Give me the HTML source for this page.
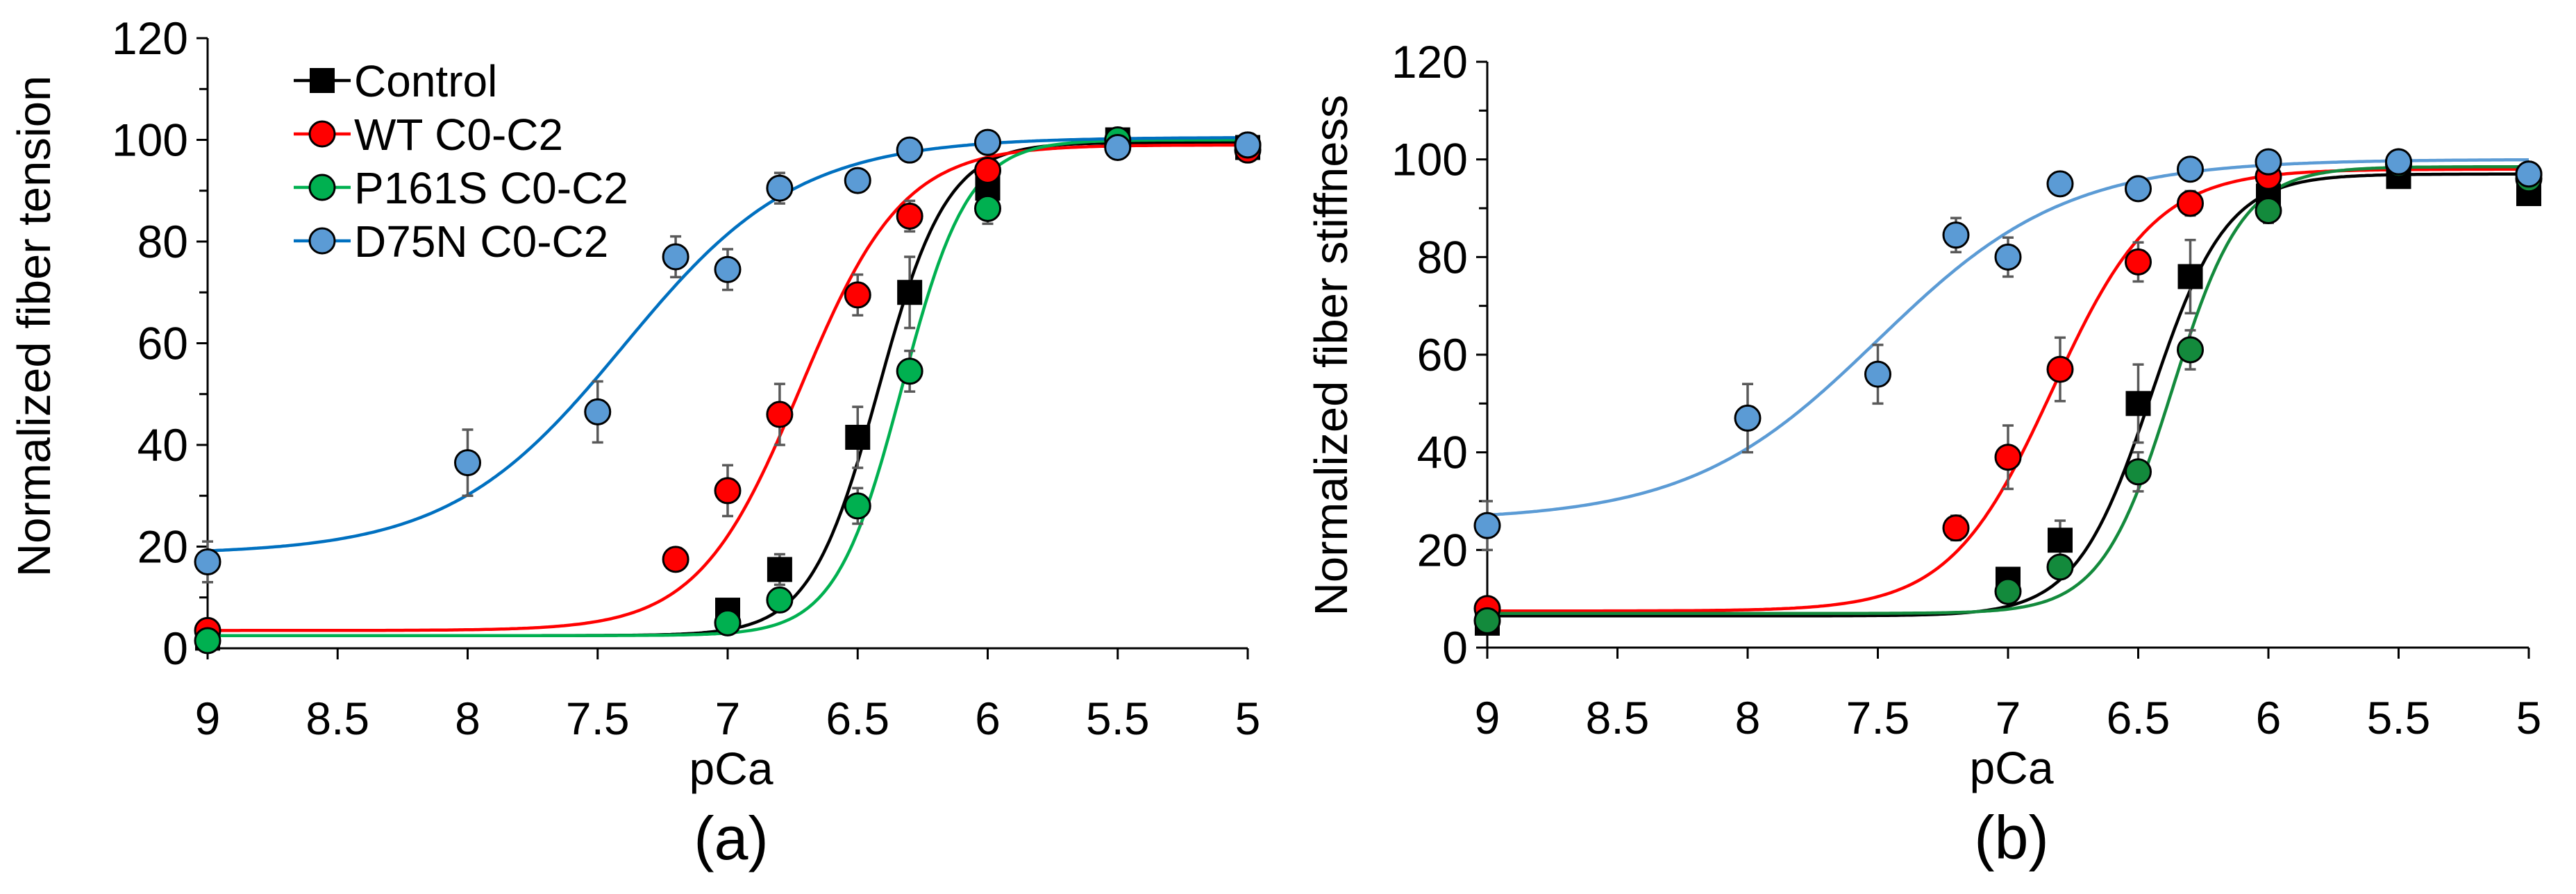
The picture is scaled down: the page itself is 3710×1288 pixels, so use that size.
<!DOCTYPE html>
<html><head><meta charset="utf-8"><style>
html,body{margin:0;padding:0;background:#fff;}
svg{display:block;font-family:"Liberation Sans",sans-serif;}
</style></head><body>
<svg id="fig" width="3710" height="1288" viewBox="0 0 3710 1288" xmlns="http://www.w3.org/2000/svg">
<g id="pa"></g>
<g id="pb"></g>
</svg>
<script>
const xTicks=[9,8.5,8,7.5,7,6.5,6,5.5,5];
const yTicks=[0,20,40,60,80,100,120];
const seriesNames=['Control','WT C0-C2','P161S C0-C2','D75N C0-C2'];
// Panel A data
const aCtrlX=[9,7,6.8,6.5,6.3,6,5.5,5], aCtrlY=[2,7.5,15.5,41.5,70,90.5,100,98.5], aCtrlE=[1,1.5,3,6,7,2,1,1];
const aWtX=[9,7.2,7,6.8,6.5,6.3,6,5.5,5], aWtY=[3.5,17.5,31,46,69.5,85,94,99,98], aWtE=[1,1,5,6,4,3,2,1,1];
const aP161X=[9,7,6.8,6.5,6.3,6,5.5,5], aP161Y=[1.5,5,9.5,28,54.5,86.5,100,99], aP161E=[1,1,1,3.5,4,3,1,1];
const aD75X=[9,8,7.5,7.2,7,6.8,6.5,6.3,6,5.5,5], aD75Y=[17,36.5,46.5,77,74.5,90.5,92,98,99.5,98.5,99], aD75E=[4,6.5,6,4,4,3,1,1,1,1,1];
// Hill fit params [min,max,pCa50,n] per series
const aFitMin=[2.5,3.5,2.5,18.5], aFitMax=[99.5,99,100,100.5], aFitMid=[6.42,6.72,6.33,7.4], aFitN=[3.3,2.2,3.4,1.3];
// Panel B data
const bCtrlX=[9,7,6.8,6.5,6.3,6,5.5,5], bCtrlY=[5,14,22,50,76,92.5,96.5,93], bCtrlE=[1,1.5,4,8,7.5,2,1,1];
const bWtX=[9,7.2,7,6.8,6.5,6.3,6,5.5,5], bWtY=[8,24.5,39,57,79,91,96.5,99.5,97], bWtE=[1,2.5,6.5,6.5,4,2.5,1.5,1,1];
const bP161X=[9,7,6.8,6.5,6.3,6,5.5,5], bP161Y=[5.5,11.5,16.5,36,61,89.5,99,96], bP161E=[1,1,1,4,4,2.5,1,1];
const bD75X=[9,8,7.5,7.2,7,6.8,6.5,6.3,6,5.5,5], bD75Y=[25,47,56,84.5,80,95,94,98,99.5,99.5,97], bD75E=[5,7,6,3.5,4,1,1,1,1,1,1];
const bFitMin=[6.5,7.5,7,26], bFitMax=[97,98,98.5,100], bFitMid=[6.45,6.83,6.37,7.5], bFitN=[3,2.2,3.2,1.2];

const NS='http://www.w3.org/2000/svg';
function mk(p,t,a){const e=document.createElementNS(NS,t);for(const k in a)e.setAttribute(k,a[k]);p.appendChild(e);return e;}

function panel(g,cfg){
  const X=v=>cfg.x0+(9-v)/4*(cfg.x1-cfg.x0);
  const Y=v=>cfg.y0-v/120*(cfg.y0-cfg.y1);
  const ya=mk(g,'line',{x1:cfg.x0,y1:cfg.y0,x2:cfg.x0,y2:cfg.y1,stroke:'#000','stroke-width':3});
  
  
  const xa=mk(g,'line',{x1:cfg.x0,y1:cfg.y0,x2:cfg.x1,y2:cfg.y0,stroke:'#000','stroke-width':3});
  
  
  for(let v=0;v<=120;v+=10){mk(g,'line',{x1:cfg.x0-(v%20?12:16),y1:Y(v),x2:cfg.x0,y2:Y(v),stroke:'#000','stroke-width':3});}
  yTicks.forEach(v=>{
    const t=mk(g,'text',{x:cfg.x0-28,y:Y(v)+23,'text-anchor':'end','font-size':66,fill:'#000'});
    t.textContent=v;
    
    
  });
  xTicks.forEach(v=>{
    mk(g,'line',{x1:X(v),y1:cfg.y0,x2:X(v),y2:cfg.y0+16,stroke:'#000','stroke-width':3});
    const t=mk(g,'text',{x:X(v),y:cfg.y0+124,'text-anchor':'middle','font-size':66,fill:'#000'});
    t.textContent=v;
    
    
  });
  const xt=mk(g,'text',{x:(cfg.x0+cfg.x1)/2+5,y:cfg.y0+196,'text-anchor':'middle','font-size':66,fill:'#000'});
  xt.textContent='pCa';
  
  
  const yt=mk(g,'text',{x:0,y:0,'text-anchor':'middle','font-size':67,fill:'#000',transform:`translate(${cfg.ytx},${cfg.yty}) rotate(-90)`});
  yt.textContent=cfg.ytitle;
  
  
  const pl=mk(g,'text',{x:(cfg.x0+cfg.x1)/2+5,y:cfg.y0+304,'text-anchor':'middle','font-size':88,fill:'#000'});
  pl.textContent=cfg.label;
  
  
  cfg.series.forEach((s,i)=>{
    let d='';
    for(let k=0;k<=400;k++){const p=9-4*k/400;const v=cfg.fmin[i]+(cfg.fmax[i]-cfg.fmin[i])/(1+Math.pow(10,cfg.fn[i]*(p-cfg.fmid[i])));d+=(k?'L':'M')+X(p).toFixed(1)+','+Y(v).toFixed(1);}
    const c=mk(g,'path',{d:d,fill:'none',stroke:s.line,'stroke-width':4.5});
    
    
  });
  cfg.series.forEach(s=>{
    s.x.forEach((xv,j)=>{
      const cx=X(xv),y1=Y(s.y[j]+s.e[j]),y2=Y(s.y[j]-s.e[j]);
      const eb=mk(g,'path',{d:`M${cx},${y1}L${cx},${y2}M${cx-8},${y1}L${cx+8},${y1}M${cx-8},${y2}L${cx+8},${y2}`,stroke:'#595959','stroke-width':3.5,fill:'none'});
      
      
    });
  });
  cfg.series.forEach(s=>{
    s.x.forEach((xv,j)=>{
      const cx=X(xv),cy=Y(s.y[j]);let m;
      if(s.sq) m=mk(g,'rect',{x:cx-18,y:cy-18,width:36,height:36,fill:'#000'});
      else m=mk(g,'circle',{cx:cx,cy:cy,r:18,fill:s.fill,stroke:'#000','stroke-width':3});
      
      
    });
  });
  if(cfg.legend){
    cfg.series.forEach((s,i)=>{
      const ly=116+i*77;
      const lg=mk(g,'g',{});
      
      
      mk(lg,'line',{x1:423,y1:ly,x2:505,y2:ly,stroke:s.line,'stroke-width':4.5});
      if(s.sq) mk(lg,'rect',{x:446,y:ly-18,width:36,height:36,fill:'#000'});
      else mk(lg,'circle',{cx:464,cy:ly,r:18,fill:s.fill,stroke:'#000','stroke-width':3});
      const t=mk(lg,'text',{x:510,y:ly+23,'font-size':64,fill:'#000'});
      t.textContent=seriesNames[i];
    });
  }
}
panel(document.getElementById('pa'),{x0:299,x1:1797,y0:934,y1:55,ytx:72,yty:470,ytitle:'Normalized fiber tension',label:'(a)',legend:true,
  fmin:aFitMin,fmax:aFitMax,fmid:aFitMid,fn:aFitN,
  series:[
   {key:'control',x:aCtrlX,y:aCtrlY,e:aCtrlE,sq:true,line:'#000',fill:'#000'},
   {key:'wt',x:aWtX,y:aWtY,e:aWtE,line:'#ff0000',fill:'#ff0000'},
   {key:'p161s',x:aP161X,y:aP161Y,e:aP161E,line:'#00b050',fill:'#00b050'},
   {key:'d75n',x:aD75X,y:aD75Y,e:aD75E,line:'#0070c0',fill:'#5b9bd5'}]});
panel(document.getElementById('pb'),{x0:2142,x1:3642,y0:933,y1:89,ytx:1940,yty:512,ytitle:'Normalized fiber stiffness',label:'(b)',legend:false,
  fmin:bFitMin,fmax:bFitMax,fmid:bFitMid,fn:bFitN,
  series:[
   {key:'control',x:bCtrlX,y:bCtrlY,e:bCtrlE,sq:true,line:'#000',fill:'#000'},
   {key:'wt',x:bWtX,y:bWtY,e:bWtE,line:'#ff0000',fill:'#ff0000'},
   {key:'p161s',x:bP161X,y:bP161Y,e:bP161E,line:'#138a3c',fill:'#138a3c'},
   {key:'d75n',x:bD75X,y:bD75Y,e:bD75E,line:'#5b9bd5',fill:'#5b9bd5'}]});
</script>
</body></html>
